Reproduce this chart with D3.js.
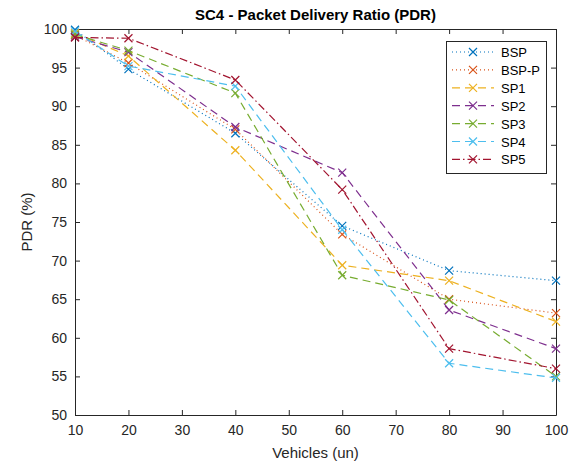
<!DOCTYPE html>
<html>
<head>
<meta charset="utf-8">
<script src="https://cdn.jsdelivr.net/npm/d3@7"></script>
<style>
  body { margin: 0; background: #fff; }
  svg { font-family: "Liberation Sans", Arial, sans-serif; }
</style>
</head>
<body>
<div id="chart"></div>
<script>
// data
var vehicles = [10, 20, 40, 60, 80, 100]
var bsp  = [99.9, 94.8, 86.5, 74.5, 68.7, 67.4]
var bspP = [99.2, 95.6, 87.0, 73.4, 65.0, 63.2]
var sp1  = [99.5, 96.5, 84.3, 69.4, 67.4, 62.1]
var sp2  = [99.0, 97.0, 87.3, 81.4, 63.6, 58.6]
var sp3  = [99.3, 97.2, 91.7, 68.1, 64.9, 55.0]
var sp4  = [99.7, 95.2, 92.6, 74.0, 56.7, 54.8]
var sp5  = [98.9, 98.8, 93.4, 79.2, 58.6, 56.0]
var seriesNames = ["BSP", "BSP-P", "SP1", "SP2", "SP3", "SP4", "SP5"]
var xTicks = [10, 20, 30, 40, 50, 60, 70, 80, 90, 100]
var yTicks = [50, 55, 60, 65, 70, 75, 80, 85, 90, 95, 100]

var series = [bsp, bspP, sp1, sp2, sp3, sp4, sp5]
var colors = ["#0072BD", "#D95319", "#EDB120", "#7E2F8E", "#77AC30", "#4DBEEE", "#A2142F"]
var dashes = ["1,3", "1,3", "8,5", "8,5", "8,5", "8,5", "8,3,1.5,3"]

var width = 576, height = 465
var margin = { left: 75, right: 20, top: 29, bottom: 50 }

var svg = d3.select("#chart").append("svg")
  .attr("width", width).attr("height", height)

var x = d3.scaleLinear().domain([10, 100]).range([margin.left, width - margin.right])
var y = d3.scaleLinear().domain([50, 100]).range([height - margin.bottom, margin.top])

var axisColor = "#262626"

// axes, ticks inside like matlab
var gx = svg.append("g").attr("transform", "translate(0," + y(50) + ")")
  .call(d3.axisBottom(x).tickValues(xTicks).tickSizeInner(-5).tickSizeOuter(0).tickPadding(10))
var gxTop = svg.append("g").attr("transform", "translate(0," + y(100) + ")")
  .call(d3.axisTop(x).tickValues(xTicks).tickSizeInner(-5).tickSizeOuter(0).tickFormat(""))
var gy = svg.append("g").attr("transform", "translate(" + x(10) + ",0)")
  .call(d3.axisLeft(y).tickValues(yTicks).tickSizeInner(-5).tickSizeOuter(0).tickPadding(8))
var gyRight = svg.append("g").attr("transform", "translate(" + x(100) + ",0)")
  .call(d3.axisRight(y).tickValues(yTicks).tickSizeInner(-5).tickSizeOuter(0).tickFormat(""))

svg.selectAll(".domain").attr("stroke", axisColor)
svg.selectAll(".tick line").attr("stroke", axisColor)
svg.selectAll(".tick text").attr("fill", axisColor).style("font-size", "14px")

// lines
var line = d3.line()
  .x(function (d, i) { return x(vehicles[i]) })
  .y(function (d) { return y(d) })

function xMark(g, cx, cy, color) {
  var s = 4
  g.append("path")
    .attr("d", "M" + (cx - s) + "," + (cy - s) + "L" + (cx + s) + "," + (cy + s) +
      "M" + (cx - s) + "," + (cy + s) + "L" + (cx + s) + "," + (cy - s))
    .attr("stroke", color).attr("stroke-width", 1.2).attr("fill", "none")
}

series.forEach(function (vals, k) {
  var g = svg.append("g")
  g.append("path")
    .datum(vals)
    .attr("d", line)
    .attr("fill", "none")
    .attr("stroke", colors[k])
    .attr("stroke-width", 1.2)
    .attr("stroke-dasharray", dashes[k])
  vals.forEach(function (v, i) { xMark(g, x(vehicles[i]), y(v), colors[k]) })
})

// legend
var lg = svg.append("g")
lg.append("rect")
  .attr("x", 446.5).attr("y", 41.5).attr("width", 100).attr("height", 132)
  .attr("fill", "#fff").attr("stroke", axisColor).attr("stroke-width", 1)
seriesNames.forEach(function (name, k) {
  var ly = 52 + k * 17.9
  lg.append("line")
    .attr("x1", 452).attr("x2", 494).attr("y1", ly).attr("y2", ly)
    .attr("stroke", colors[k]).attr("stroke-width", 1.2).attr("stroke-dasharray", dashes[k])
  xMark(lg, 473, ly, colors[k])
  lg.append("text").attr("x", 501).attr("y", ly + 5)
    .style("font-size", "13px").attr("fill", "#000").text(name)
})

// labels
svg.append("text")
  .attr("x", (x(10) + x(100)) / 2).attr("y", 20)
  .attr("text-anchor", "middle").style("font-size", "15px").style("font-weight", "bold")
  .attr("fill", "#000")
  .text("SC4 - Packet Delivery Ratio (PDR)")

svg.append("text")
  .attr("x", (x(10) + x(100)) / 2).attr("y", 458)
  .attr("text-anchor", "middle").style("font-size", "15px").attr("fill", axisColor)
  .text("Vehicles (un)")

svg.append("text")
  .attr("transform", "translate(32," + ((y(50) + y(100)) / 2) + ") rotate(-90)")
  .attr("text-anchor", "middle").style("font-size", "15px").attr("fill", axisColor)
  .text("PDR (%)")
</script>
</body>
</html>
